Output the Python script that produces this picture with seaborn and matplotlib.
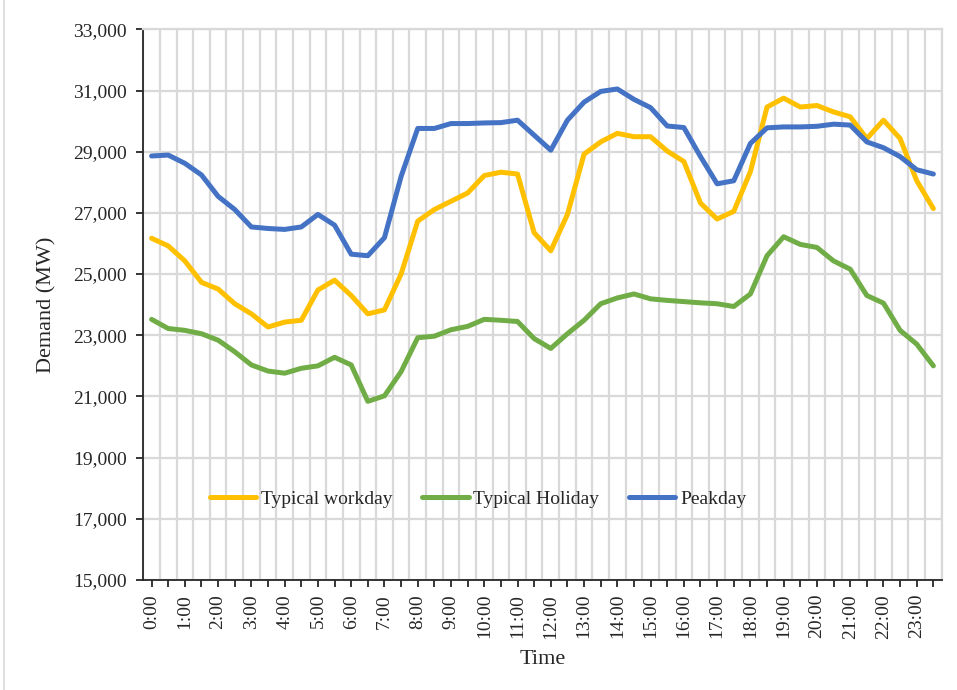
import numpy as np
import pandas as pd
import matplotlib.pyplot as plt
import seaborn as sns
from matplotlib.ticker import FuncFormatter
from matplotlib.lines import Line2D

# ---- Data: half-hourly demand (MW), 0:00 .. 23:30
times = [f"{h}:{m:02d}" for h in range(24) for m in (0, 30)]

workday = [26170, 25920, 25430, 24730, 24510, 24030, 23700, 23270, 23430, 23490, 24480, 24800,
           24300, 23700, 23830, 25000, 26730, 27110, 27380, 27650, 28220, 28330, 28270, 26350,
           25760, 26950, 28920, 29320, 29600, 29490, 29490, 29020, 28680, 27320, 26800, 27050,
           28350, 30460, 30750, 30460, 30510, 30300, 30140, 29430, 30030, 29430, 28050, 27140]

holiday = [23520, 23220, 23160, 23050, 22840, 22460, 22030, 21830, 21760, 21920, 22000, 22280,
           22030, 20840, 21020, 21810, 22920, 22970, 23180, 23290, 23520, 23490, 23450, 22890,
           22570, 23050, 23490, 24030, 24220, 24350, 24190, 24140, 24100, 24060, 24030, 23940,
           24350, 25600, 26220, 25970, 25870, 25430, 25160, 24300, 24050, 23160, 22710, 22000]

peakday = [28860, 28890, 28620, 28240, 27540, 27110, 26540, 26490, 26460, 26540, 26950, 26600,
           25650, 25600, 26190, 28190, 29760, 29760, 29920, 29920, 29940, 29950, 30030, 29540,
           29050, 30030, 30620, 30970, 31050, 30710, 30440, 29840, 29790, 28840, 27950, 28050,
           29270, 29780, 29810, 29810, 29830, 29900, 29870, 29320, 29130, 28840, 28410, 28270]

series_names = ["Typical workday", "Typical Holiday", "Peakday"]
colors = ["#FFC000", "#70AD47", "#4472C4"]
y_ticks = [15000, 17000, 19000, 21000, 23000, 25000, 27000, 29000, 31000, 33000]

wide = pd.DataFrame({
    "slot": np.arange(len(times)),
    "Typical workday": workday,
    "Typical Holiday": holiday,
    "Peakday": peakday,
})
long = wide.melt(id_vars="slot", var_name="series", value_name="demand")

sns.set_style("white")
plt.rcParams["font.family"] = ["Liberation Serif", "DejaVu Serif"]

fig = plt.figure(figsize=(9.57, 6.9), dpi=100)
ax = fig.add_axes([0.1497, 0.1594, 0.984 - 0.1497, 0.9575 - 0.1594])

grid_c = "#d9d9d9"
sns.lineplot(
    data=long, x="slot", y="demand", hue="series", hue_order=series_names,
    palette=colors, linewidth=3.6, ax=ax, zorder=3,
    solid_capstyle="round", solid_joinstyle="round",
)

ax.set_xlim(-0.5, len(times) - 0.5)
ax.set_ylim(y_ticks[0], y_ticks[-1])
ax.set_yticks(y_ticks)
ax.yaxis.set_major_formatter(FuncFormatter(lambda v, _: f"{v:,.0f}"))

ax.set_xticks(np.arange(len(times)))
ax.set_xticklabels([t if i % 2 == 0 else "" for i, t in enumerate(times)], rotation=90)
ax.set_xticks(np.arange(-0.5, len(times), 1.0), minor=True)

ax.grid(axis="y", which="major", color=grid_c, linewidth=1.6, zorder=0)
ax.grid(axis="x", which="minor", color=grid_c, linewidth=1.6, zorder=0)
ax.grid(axis="x", which="major", visible=False)
ax.set_axisbelow(True)

for side in ["left", "bottom"]:
    ax.spines[side].set_color("#262626")
    ax.spines[side].set_linewidth(1.3)
for side in ["top", "right"]:
    ax.spines[side].set_color(grid_c)
    ax.spines[side].set_linewidth(1.6)

ax.tick_params(axis="y", which="major", direction="out", length=5, width=1.3,
               color="#262626", labelsize=14, pad=7, left=True)
ax.tick_params(axis="x", which="major", direction="out", length=5, width=1.3,
               color="#262626", labelsize=14, pad=5, bottom=True)
ax.tick_params(axis="x", which="minor", length=0)

ax.set_xlabel("Time", fontsize=16, labelpad=8)
ax.set_ylabel("Demand (MW)", fontsize=16, labelpad=12)

handles, labels = ax.get_legend_handles_labels()
ax.legend(
    handles, labels, loc="center", bbox_to_anchor=(478 / 957, 1 - 499 / 690),
    bbox_transform=fig.transFigure, ncol=3, frameon=False, fontsize=14,
    handlelength=2.4, handletextpad=0.25, columnspacing=1.5,
)

# faint chart-area border on the left edge
fig.add_artist(Line2D([4 / 957, 4 / 957], [0, 1], transform=fig.transFigure,
                      color=grid_c, linewidth=1.2))

fig.savefig("out.png", dpi=100)
